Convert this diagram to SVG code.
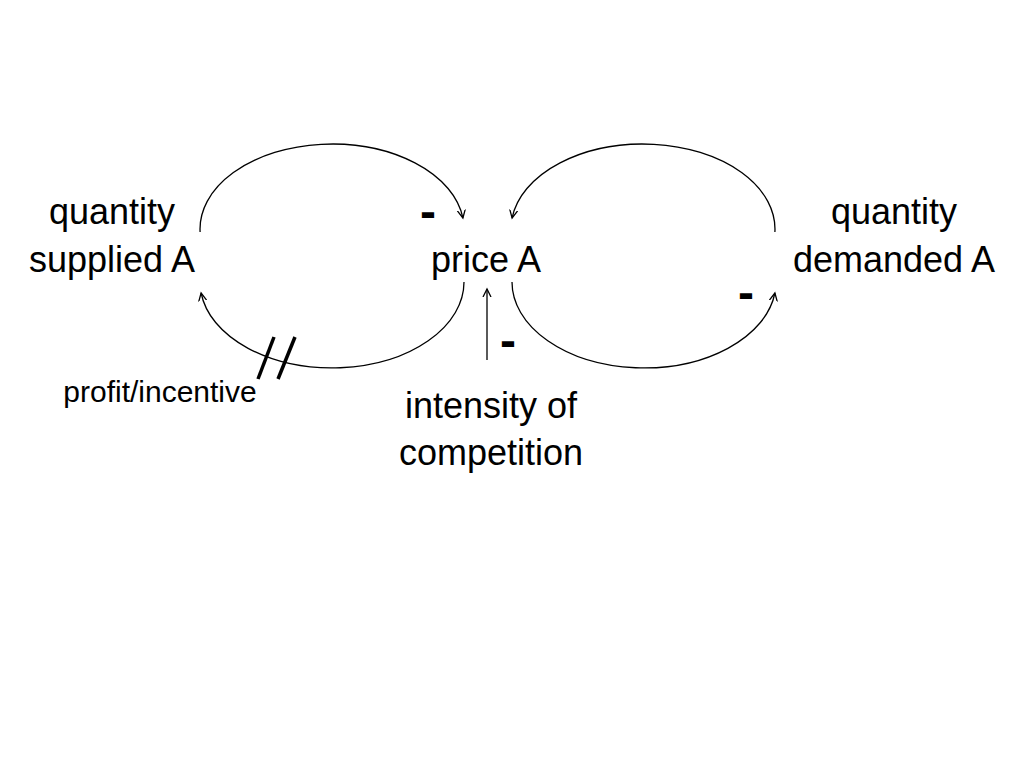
<svg xmlns="http://www.w3.org/2000/svg" width="1024" height="768" viewBox="0 0 1024 768">
<style>
.lbl{font-family:"Liberation Sans",Arial,sans-serif;font-size:36px;fill:#000;text-anchor:middle}
.small{font-family:"Liberation Sans",Arial,sans-serif;font-size:30px;fill:#000;text-anchor:middle}
.sign{font-family:"Liberation Sans",Arial,sans-serif;font-size:48px;font-weight:bold;fill:#000;text-anchor:middle}
.link{fill:none;stroke:#000;stroke-width:1.3;marker-end:url(#arr)}
.tick{stroke:#000;stroke-width:3.5;stroke-linecap:butt}
</style>
<defs>
<marker id="arr" markerUnits="userSpaceOnUse" markerWidth="16" markerHeight="16" refX="8" refY="4.5" viewBox="0 0 16 9" orient="auto">
<path d="M0,0.5 L8,4.5 L0,8.5" fill="none" stroke="#000" stroke-width="1.3"/>
</marker>
</defs>
<rect width="1024" height="768" fill="#fff"/>
<g id="node-supplied"><text class="lbl" x="112" y="224">quantity</text><text class="lbl" x="112" y="272">supplied A</text></g>
<g id="node-price"><text class="lbl" x="486" y="272">price A</text></g>
<g id="node-demanded"><text class="lbl" x="894" y="224">quantity</text><text class="lbl" x="894" y="272">demanded A</text></g>
<g id="node-competition"><text class="lbl" x="491" y="418">intensity of</text><text class="lbl" x="491" y="465">competition</text></g>
<g id="connectors">
<path class="link" d="M200.1,232 A132,85 0 0 1 462.9,218"/>
<path class="link" d="M464,282 A132,86 0 0 1 201.1,293"/>
<path class="link" d="M774.9,232 A132,85 0 0 0 512.1,218"/>
<path class="link" d="M512,282 A132,86 0 0 0 774.9,293"/>
<path class="link" d="M487,360 L487,289"/>
<line class="tick" x1="258" y1="379" x2="274" y2="337"/>
<line class="tick" x1="278" y1="379" x2="295" y2="337"/>
<text class="small" x="160" y="402">profit/incentive</text>
<text class="sign" x="428" y="228">-</text>
<text class="sign" x="508" y="357">-</text>
<text class="sign" x="746" y="309">-</text>
</g>
</svg>
